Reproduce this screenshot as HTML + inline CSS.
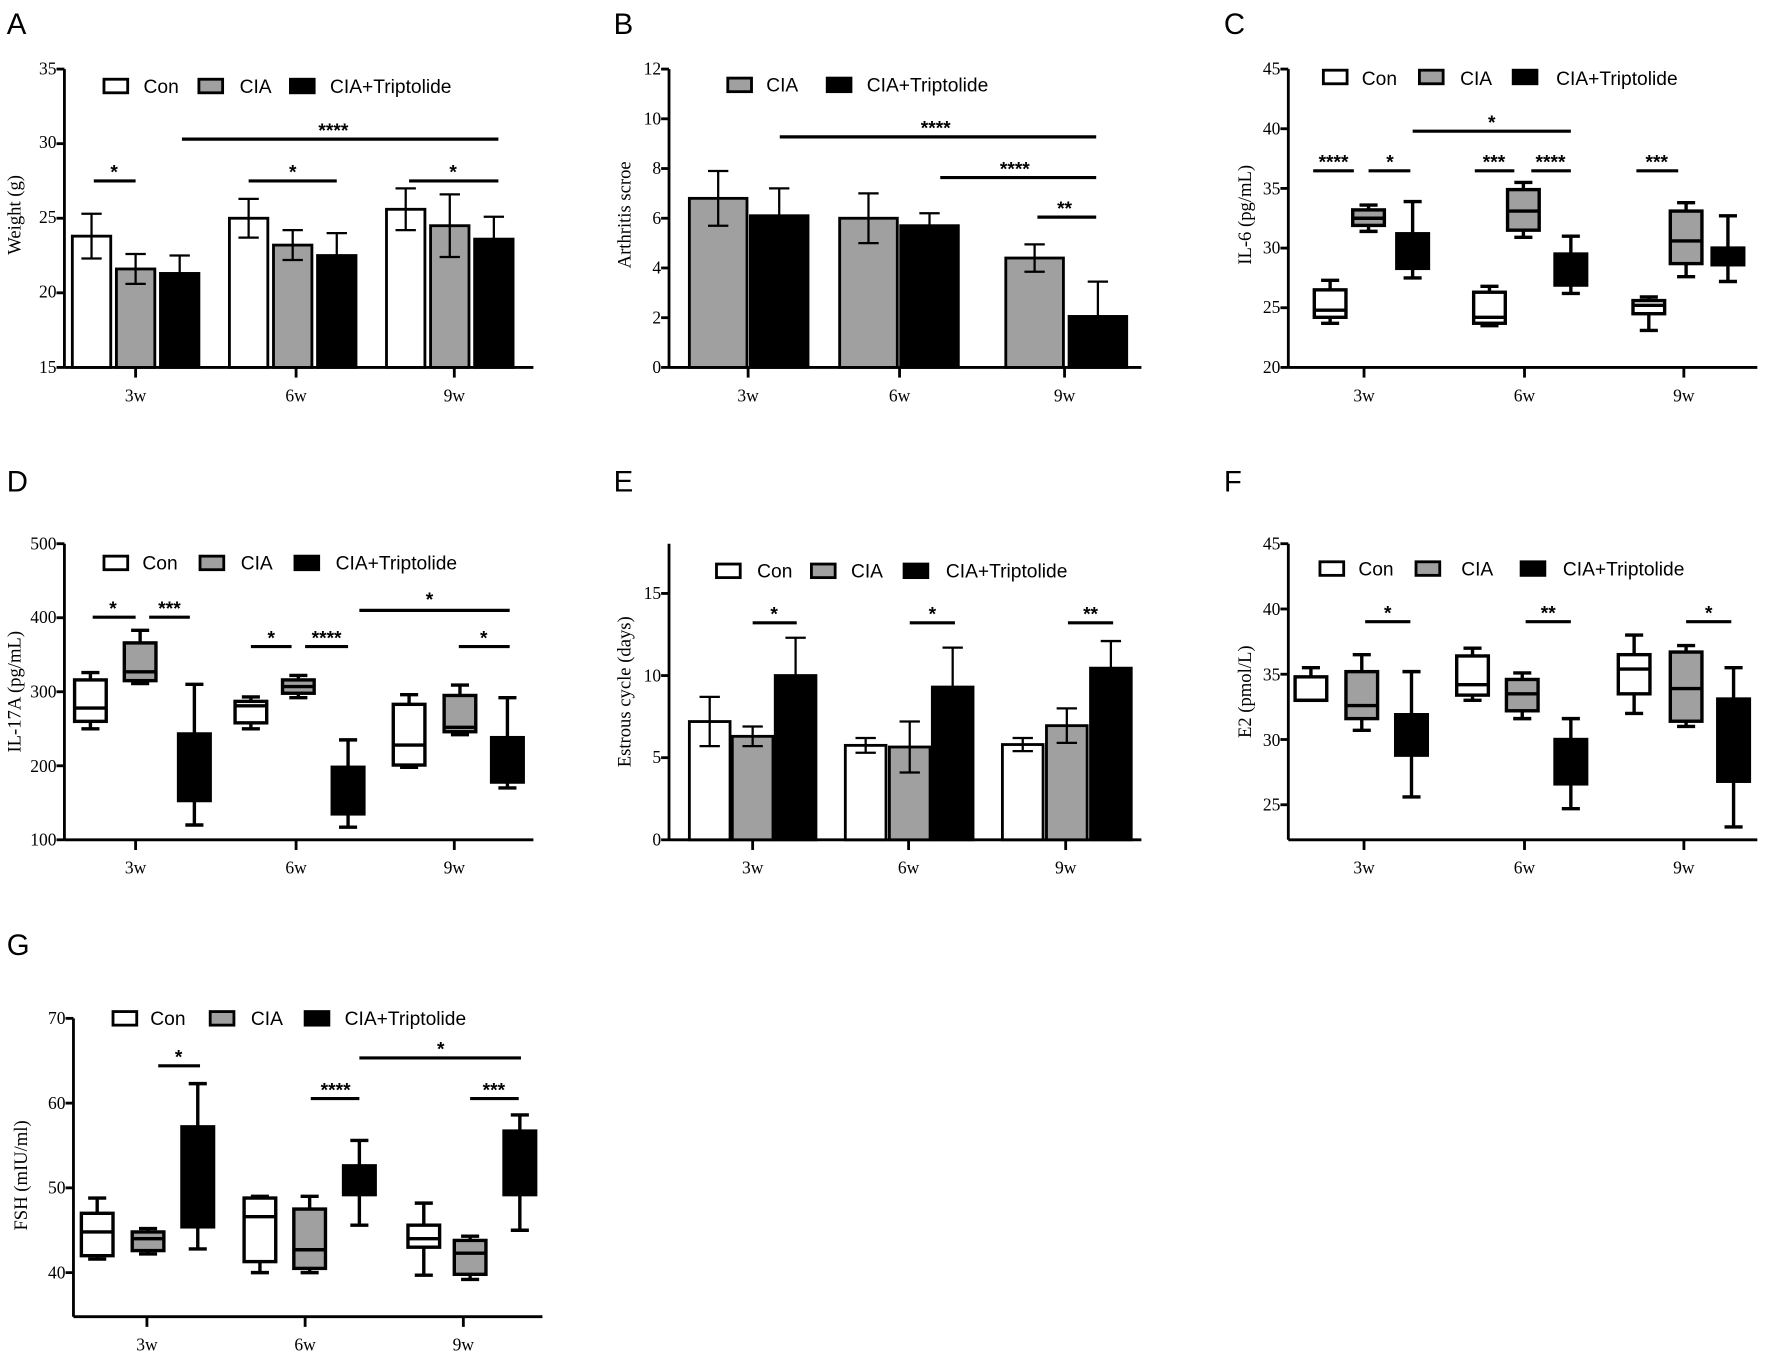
<!DOCTYPE html>
<html><head><meta charset="utf-8"><style>
html,body{margin:0;padding:0;background:#fff;}
svg{display:block;}
.t{font-family:"Liberation Serif",serif;font-size:15.5px;fill:#000;}
.l{font-family:"Liberation Sans",sans-serif;font-size:17px;fill:#000;}
.s{font-family:"Liberation Sans",sans-serif;font-size:17px;font-weight:bold;fill:#000;text-anchor:middle;}
.p{font-family:"Liberation Sans",sans-serif;font-size:26px;fill:#000;}
.yl{font-family:"Liberation Serif",serif;font-size:16.5px;fill:#000;text-anchor:middle;}
</style></head><body>
<svg id="g" width="1772" height="1353" viewBox="0 0 1568 1197" xmlns="http://www.w3.org/2000/svg">
<rect width="1568" height="1197" fill="#fff"/>
<text class="p" x="6" y="30">A</text><text class="p" x="543" y="30">B</text><text class="p" x="1083" y="30">C</text>
<text class="p" x="6" y="435">D</text><text class="p" x="543" y="435">E</text><text class="p" x="1083" y="435">F</text>
<text class="p" x="6" y="845">G</text>
<!-- A -->
<g class="t" text-anchor="end"><text x="50" y="66">35</text><text x="50" y="131">30</text><text x="50" y="197">25</text><text x="50" y="263">20</text><text x="50" y="330">15</text></g>
<g class="t" text-anchor="middle"><text x="120" y="355">3w</text><text x="262" y="355">6w</text><text x="402" y="355">9w</text></g>
<text class="yl" transform="translate(18,190) rotate(-90)">Weight (g)</text>
<text class="l" x="127" y="82">Con</text><text class="l" x="212" y="82">CIA</text><text class="l" x="292" y="82">CIA+Triptolide</text>
<text class="s" x="101" y="158">*</text><text class="s" x="295" y="121">****</text><text class="s" x="259" y="158">*</text><text class="s" x="401" y="158">*</text>
<!-- B -->
<g class="t" text-anchor="end"><text x="585" y="66">12</text><text x="585" y="110">10</text><text x="585" y="154">8</text><text x="585" y="198">6</text><text x="585" y="242">4</text><text x="585" y="286">2</text><text x="585" y="330">0</text></g>
<g class="t" text-anchor="middle"><text x="662" y="355">3w</text><text x="796" y="355">6w</text><text x="942" y="355">9w</text></g>
<text class="yl" transform="translate(558,190) rotate(-90)">Arthritis  scroe</text>
<text class="l" x="678" y="81">CIA</text><text class="l" x="767" y="81">CIA+Triptolide</text>
<text class="s" x="828" y="119">****</text><text class="s" x="898" y="155">****</text><text class="s" x="942" y="190">**</text>
<!-- C -->
<g class="t" text-anchor="end"><text x="1133" y="66">45</text><text x="1133" y="119">40</text><text x="1133" y="172">35</text><text x="1133" y="224">30</text><text x="1133" y="277">25</text><text x="1133" y="330">20</text></g>
<g class="t" text-anchor="middle"><text x="1207" y="355">3w</text><text x="1349" y="355">6w</text><text x="1490" y="355">9w</text></g>
<text class="yl" transform="translate(1107,190) rotate(-90)">IL-6 (pg/mL)</text>
<text class="l" x="1205" y="75">Con</text><text class="l" x="1292" y="75">CIA</text><text class="l" x="1377" y="75">CIA+Triptolide</text>
<text class="s" x="1180" y="149">****</text><text class="s" x="1230" y="149">*</text><text class="s" x="1320" y="114">*</text><text class="s" x="1322" y="149">***</text><text class="s" x="1372" y="149">****</text><text class="s" x="1466" y="149">***</text>
<!-- D -->
<g class="t" text-anchor="end"><text x="50" y="486">500</text><text x="50" y="551">400</text><text x="50" y="617">300</text><text x="50" y="683">200</text><text x="50" y="748">100</text></g>
<g class="t" text-anchor="middle"><text x="120" y="773">3w</text><text x="262" y="773">6w</text><text x="402" y="773">9w</text></g>
<text class="yl" transform="translate(18,612) rotate(-90)">IL-17A (pg/mL)</text>
<text class="l" x="126" y="504">Con</text><text class="l" x="213" y="504">CIA</text><text class="l" x="297" y="504">CIA+Triptolide</text>
<text class="s" x="100" y="544">*</text><text class="s" x="150" y="544">***</text><text class="s" x="240" y="570">*</text><text class="s" x="289" y="570">****</text><text class="s" x="380" y="536">*</text><text class="s" x="428" y="570">*</text>
<!-- E -->
<g class="t" text-anchor="end"><text x="585" y="530">15</text><text x="585" y="603">10</text><text x="585" y="675">5</text><text x="585" y="748">0</text></g>
<g class="t" text-anchor="middle"><text x="666" y="773">3w</text><text x="804" y="773">6w</text><text x="943" y="773">9w</text></g>
<text class="yl" transform="translate(558,612) rotate(-90)">Estrous cycle (days)</text>
<text class="l" x="670" y="511">Con</text><text class="l" x="753" y="511">CIA</text><text class="l" x="837" y="511">CIA+Triptolide</text>
<text class="s" x="685" y="549">*</text><text class="s" x="825" y="549">*</text><text class="s" x="965" y="549">**</text>
<!-- F -->
<g class="t" text-anchor="end"><text x="1133" y="486">45</text><text x="1133" y="544">40</text><text x="1133" y="602">35</text><text x="1133" y="660">30</text><text x="1133" y="717">25</text></g>
<g class="t" text-anchor="middle"><text x="1207" y="773">3w</text><text x="1349" y="773">6w</text><text x="1490" y="773">9w</text></g>
<text class="yl" transform="translate(1107,612) rotate(-90)">E2 (pmol/L)</text>
<text class="l" x="1202" y="509">Con</text><text class="l" x="1293" y="509">CIA</text><text class="l" x="1383" y="509">CIA+Triptolide</text>
<text class="s" x="1228" y="548">*</text><text class="s" x="1370" y="548">**</text><text class="s" x="1512" y="548">*</text>
<!-- G -->
<g class="t" text-anchor="end"><text x="58" y="906">70</text><text x="58" y="981">60</text><text x="58" y="1056">50</text><text x="58" y="1131">40</text></g>
<g class="t" text-anchor="middle"><text x="130" y="1195">3w</text><text x="270" y="1195">6w</text><text x="410" y="1195">9w</text></g>
<text class="yl" transform="translate(24,1040) rotate(-90)">FSH (mIU/ml)</text>
<text class="l" x="133" y="907">Con</text><text class="l" x="222" y="907">CIA</text><text class="l" x="305" y="907">CIA+Triptolide</text>
<text class="s" x="158" y="941">*</text><text class="s" x="297" y="970">****</text><text class="s" x="390" y="934">*</text><text class="s" x="437" y="970">***</text>
<g id="dyn"></g>
</svg>
<script>
var NS="http://www.w3.org/2000/svg",D=document.getElementById("dyn");
function el(t,a){var e=document.createElementNS(NS,t);for(var k in a)e.setAttribute(k,a[k]);D.appendChild(e);return e;}
function ln(x1,y1,x2,y2,w){el("line",{x1:x1,y1:y1,x2:x2,y2:y2,stroke:"#000","stroke-width":w||2.5});}
function rc(x,y,w,h,f,sw){el("rect",{x:x,y:y,width:w,height:h,fill:f,stroke:"#000","stroke-width":sw||2.5});}
var C=["#fff","#a0a0a0","#000"];
function axes(P){
  var Y=function(v){return P.yb-(v-P.vmin)*(P.yb-P.yt)/(P.vmax-P.vmin);};P.Y=Y;
  ln(P.ax,P.top,P.ax,P.bot);ln(P.ax,P.bot,P.xe,P.bot);
  for(var v=P.vmin;v<=P.vmax+1e-9;v+=P.step)ln(P.ax-7,Y(v),P.ax,Y(v));
  P.g.forEach(function(x){ln(x,P.bot,x,P.bot+9);});
  P.leg.forEach(function(x,i){rc(x,P.ly-6,21,12,C[P.cols?P.cols[i]:i]);});
  P.sig.forEach(function(s){ln(s[0],s[2],s[1],s[2],2.8);});
  return Y;
}
function bars(P,xs,vals,errs,w){var Y=P.Y;
  xs.forEach(function(x,i){var v=vals[i],c=C[P.cols?P.cols[i%P.cols.length]:i%3];
    ln(x+w/2,Y(v),x+w/2,Y(errs[i]),2);ln(x+w/2-9,Y(errs[i]),x+w/2+9,Y(errs[i]),2);
    rc(x,Y(v),w,P.bot-Y(v),c);
    if(c!="#000"){ln(x+w/2,Y(v),x+w/2,Y(2*v-errs[i]),2);ln(x+w/2-9,Y(2*v-errs[i]),x+w/2+9,Y(2*v-errs[i]),2);}
  });}
function boxes(P,xs,d,w){var Y=P.Y;
  xs.forEach(function(x,i){var b=d[i],c=C[i%3];
    ln(x,Y(b[0]),x,Y(b[4]),3);ln(x-8,Y(b[0]),x+8,Y(b[0]),3);ln(x-8,Y(b[4]),x+8,Y(b[4]),3);
    rc(x-w/2,Y(b[3]),w,Y(b[1])-Y(b[3]),c,3);
    if(b[2]!=null)ln(x-w/2,Y(b[2]),x+w/2,Y(b[2]),3);
  });}
var A={ax:57,top:61,bot:325,yb:325,yt:61,vmin:15,vmax:35,step:5,xe:472,g:[120,262,402],leg:[92,176,257],ly:76,
 sig:[[83,120,160],[161,441,123],[220,298,160],[362,441,160]]};axes(A);
bars(A,[64,103,142,203,242,281,342,381,420],[23.8,21.6,21.3,25,23.2,22.5,25.6,24.5,23.6],[25.3,22.6,22.5,26.3,24.2,24,27,26.6,25.1],34);
var B={ax:592,top:61,bot:325,yb:325,yt:61,vmin:0,vmax:12,step:2,xe:1010,g:[662,796,942],leg:[644,732],ly:75,cols:[1,2],
 sig:[[690,970,121],[832,970,157],[918,970,192]]};axes(B);
bars(B,[610,664,743,797,890,946],[6.8,6.1,6.0,5.7,4.4,2.05],[7.9,7.2,7.0,6.2,4.95,3.45],51);
var Cp={ax:1140,top:61,bot:325,yb:325,yt:61,vmin:20,vmax:45,step:5,xe:1555,g:[1207,1349,1490],leg:[1171,1256,1339],ly:68,
 sig:[[1162,1198,151],[1211,1248,151],[1250,1390,116],[1305,1340,151],[1355,1390,151],[1448,1485,151]]};axes(Cp);
boxes(Cp,[1177,1211,1250,1318,1348,1390,1459,1492,1529],[[23.7,24.2,24.8,26.5,27.3],[31.4,31.9,32.5,33.2,33.6],[27.5,28.3,null,31.2,33.9],[23.5,23.7,24.2,26.3,26.8],[30.9,31.5,33.1,34.9,35.5],[26.2,26.9,null,29.5,31],[23.1,24.5,25.2,25.6,25.9],[27.6,28.7,30.6,33.1,33.8],[27.2,28.6,null,30,32.7]],28);
var Dp={ax:57,top:481,bot:743,yb:743,yt:481,vmin:100,vmax:500,step:100,xe:472,g:[120,262,402],leg:[92,177,261],ly:498,
 sig:[[82,120,546],[132,168,546],[222,258,572],[270,308,572],[318,451,540],[406,451,572]]};axes(Dp);
boxes(Dp,[80,124,172,222,264,308,362,407,449],[[250,260,278,316,326],[311,315,327,366,383],[120,153,null,243,310],[250,258,281,287,293],[292,298,307,316,322],[117,135,null,198,235],[198,201,228,283,296],[242,246,252,295,309],[170,178,null,238,292]],28);
var E={ax:592,top:481,bot:743,yb:743,yt:525,vmin:0,vmax:15,step:5,xe:1010,g:[666,804,943],leg:[634,718,800],ly:505,
 sig:[[666,705,551],[805,845,551],[945,985,551]]};axes(E);
bars(E,[610,648,686,748,787,825,887,926,965],[7.2,6.3,10.0,5.75,5.65,9.3,5.8,6.95,10.45],[8.7,6.9,12.3,6.2,7.2,11.7,6.2,8.0,12.1],36);
var F={ax:1140,top:481,bot:743,yb:712,yt:481,vmin:25,vmax:45,step:5,xe:1555,g:[1207,1349,1490],leg:[1168,1253,1346],ly:503,
 sig:[[1208,1248,550],[1350,1390,550],[1492,1532,550]]};axes(F);
boxes(F,[1160,1205,1249,1303,1347,1390,1446,1492,1534],[[33,33,33,34.8,35.5],[30.7,31.6,32.6,35.2,36.5],[25.6,28.8,null,31.9,35.2],[33,33.4,34.2,36.4,37],[31.6,32.2,33.5,34.6,35.1],[24.7,26.6,null,30,31.6],[32,33.5,35.4,36.5,38],[31,31.4,33.9,36.7,37.2],[23.3,26.8,null,33.1,35.5]],28);
var G={ax:65,top:901,bot:1165,yb:1126,yt:901,vmin:40,vmax:70,step:10,xe:480,g:[130,270,410],leg:[100,186,270],ly:901,
 sig:[[140,177,943],[275,318,972],[318,461,936],[416,459,972]]};axes(G);
boxes(G,[86,131,175,230,274,318,375,416,460],[[41.6,42,44.8,47,48.8],[42.2,42.6,44,44.8,45.2],[42.8,45.4,null,57.2,62.3],[40,41.3,46.6,48.8,49],[40,40.5,42.7,47.5,49],[45.6,49.2,null,52.6,55.6],[39.7,43,44,45.6,48.2],[39.2,39.8,42.3,43.8,44.3],[45,49.2,null,56.7,58.6]],28);
</script>
</body></html>
